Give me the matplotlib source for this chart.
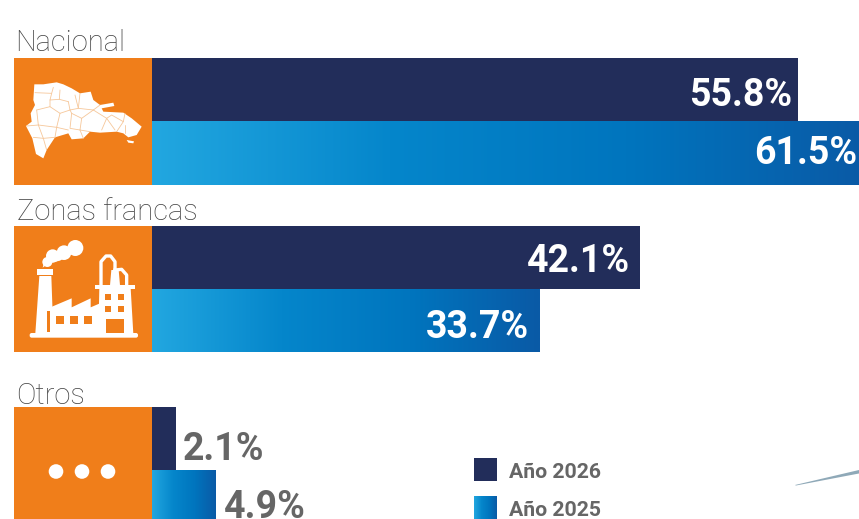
#!/usr/bin/env python3
import numpy as np
import matplotlib; matplotlib.use("Agg")
import matplotlib.pyplot as plt
from matplotlib.colors import LinearSegmentedColormap
from matplotlib.patches import Circle, Polygon, Rectangle, FancyBboxPatch

plt.rcParams["font.family"] = ["Roboto", "DejaVu Sans"]

categories = ["Nacional", "Zonas francas", "Otros"]
values_2026 = [55.8, 42.1, 2.1]
# bar lengths as drawn in the picture (the drawn 2025 bars are not all to scale with their labels)
lengths_2025 = [61.5, 33.5, 5.45]
labels_2026 = ["55.8%", "42.1%", "2.1%"]
labels_2025 = ["61.5%", "33.7%", "4.9%"]
legend_labels = ["Año 2026", "Año 2025"]

W, H = 859, 519
NAVY = "#222D5A"
ORANGE = "#F07E1A"
GRAY = "#666666"
blues = LinearSegmentedColormap.from_list(
    "blues", ["#22A7E0", "#0586CB", "#0075BE", "#0A5AA6"])
grad = np.linspace(0, 1, 256).reshape(1, -1)

# y pixel positions of each group: top of 2026 bar, border, bottom of 2025 bar
group_top = [58, 226, 407]
group_mid = [121, 289, 470]
group_bot = [185, 352, 533]
PX_PER_PCT = 11.58

fig = plt.figure(figsize=(W / 100, H / 100), dpi=100)

# overlay in pixel coordinates for icons and legend
px = fig.add_axes([0, 0, 1, 1])
px.set_xlim(0, W)
px.set_ylim(H, 0)
px.axis("off")

# bars: x in percent, y in pixels
ax = fig.add_axes([152 / W, 0, (W - 152) / W, 1])
ax.patch.set_alpha(0)
ax.axis("off")

for i in range(3):
    ax.barh((group_top[i] + group_mid[i]) / 2, values_2026[i],
            height=group_mid[i] - group_top[i], color=NAVY, lw=0)
    bar = ax.barh((group_mid[i] + group_bot[i]) / 2, lengths_2025[i],
                  height=group_bot[i] - group_mid[i], color="none", lw=0)[0]
    ax.imshow(grad, cmap=blues, aspect="auto", interpolation="bilinear",
              extent=[bar.get_x(), bar.get_x() + bar.get_width(),
                      group_bot[i], group_mid[i]])
ax.set_xlim(0, (W - 152) / PX_PER_PCT)
ax.set_ylim(H, 0)

# value labels
offs_2026 = [-6, -9, 6]
offs_2025 = [-7, -11, 9]
text_y_2026 = [91, 257, 445]
text_y_2025 = [149, 323, 504]
for i in range(3):
    inside = i < 2
    for val, lab, off, y in [
        (values_2026[i], labels_2026[i], offs_2026[i], text_y_2026[i]),
        (lengths_2025[i], labels_2025[i], offs_2025[i], text_y_2025[i]),
    ]:
        ax.annotate(lab, (val, y), xytext=(off * 0.72, 0), textcoords="offset points",
                    ha="right" if inside else "left", va="center_baseline",
                    color="white" if inside else GRAY,
                    fontsize=27, fontweight="bold", annotation_clip=False)

# category titles
title_x = [15, 17, 16]
title_y = [40, 209, 393]
for x, y, c in zip(title_x, title_y, categories):
    px.text(x, y, c, fontsize=21, fontweight="light", color="#444444",
            ha="left", va="center_baseline")

# orange icon panels
for i in range(3):
    px.add_patch(Rectangle((14, group_top[i]), 138, group_bot[i] - group_top[i],
                           fc=ORANGE, lw=0))


def z1(pts):  # zoomed map crop -> pixels
    return [(a / 3, 50 + b / 3) for a, b in pts]


def z2(pts):  # zoomed factory crop -> pixels
    return [(a / 3, 220 + b / 3) for a, b in pts]


# map of the country
map_outline = [(103, 103), (130, 103), (170, 97), (190, 103), (215, 115), (240, 130),
               (272, 125), (280, 150), (300, 165), (340, 158), (343, 168), (305, 175),
               (310, 185), (370, 188), (395, 205), (425, 230), (410, 255), (385, 262),
               (370, 250), (350, 245), (300, 248), (270, 245), (250, 265), (215, 268),
               (205, 250), (165, 262), (140, 300), (130, 325), (108, 312), (97, 265),
               (78, 228), (95, 215), (92, 190), (105, 165), (100, 150)]
px.add_patch(Polygon(z1(map_outline), fc="white", lw=0))
px.add_patch(Polygon(z1([(380, 270), (402, 274), (400, 280), (385, 278)]), fc="white", lw=0))
province_lines = [
    [(105, 128), (155, 130), (160, 112)], [(155, 130), (150, 150), (178, 148), (205, 155)],
    [(178, 148), (180, 120)], [(110, 180), (150, 170), (150, 150)],
    [(110, 180), (115, 225), (170, 232), (180, 190), (210, 180)],
    [(150, 170), (180, 190)], [(205, 155), (210, 180), (235, 175), (240, 130)],
    [(225, 135), (235, 175), (280, 180), (300, 165)], [(210, 180), (215, 190), (210, 235), (240, 240), (270, 245)],
    [(240, 240), (245, 205), (215, 190)], [(245, 205), (280, 180)],
    [(80, 228), (115, 225)], [(100, 262), (130, 265), (165, 262)], [(130, 265), (140, 300)],
    [(115, 225), (130, 265)], [(170, 232), (165, 262)], [(205, 240), (170, 232)],
    [(305, 240), (320, 205), (345, 240)], [(320, 205), (335, 195), (370, 215), (350, 245)],
    [(280, 180), (320, 205)], [(370, 215), (375, 190)], [(375, 225), (375, 250)],
    [(250, 265), (240, 240)],
]
for ln in province_lines:
    p = np.array(z1(ln))
    px.plot(p[:, 0], p[:, 1], color="#F6C79A", lw=0.6, solid_capstyle="round")

# factory icon
white = dict(fc="white", lw=0)
for cx, cy, r in [(226, 84, 24), (192, 98, 22), (158, 108, 20), (142, 126, 15)]:
    cx, cy = z2([(cx, cy)])[0]
    px.add_patch(Circle((cx, cy), r / 3, fc="white", lw=0))
px.add_patch(Polygon(z2([(128, 143), (135, 115), (220, 80), (215, 100), (180, 122), (145, 130)]), **white))
px.add_patch(Rectangle(z2([(112, 148)])[0], 48 / 3, 16 / 3, **white))
px.add_patch(Polygon(z2([(118, 168), (154, 168), (160, 340), (106, 340)]), **white))
px.add_patch(FancyBboxPatch(z2([(89, 339)])[0], 325 / 3, 14 / 3,
                            boxstyle="round,pad=0,rounding_size=2", **white))
px.add_patch(Polygon(z2([(137, 268), (215, 235), (215, 262), (272, 235), (272, 262),
                         (300, 250), (300, 342), (137, 342)]), **white))
px.add_patch(Rectangle(z2([(142, 272)])[0], 2.5, 65 / 3, fc=ORANGE, lw=0))
px.add_patch(Rectangle(z2([(284, 196)])[0], 120 / 3, 12 / 3, **white))
px.add_patch(Polygon(z2([(298, 205), (392, 205), (400, 342), (295, 342)]), **white))
# pipes
pipe1 = np.array(z2([(303, 196), (303, 125), (318, 108), (332, 108), (345, 125), (345, 150)]))
pipe2 = np.array(z2([(345, 150), (365, 148), (380, 165), (380, 196)]))
for p in (pipe1, pipe2):
    px.plot(p[:, 0], p[:, 1], color="white", lw=2.4, solid_joinstyle="round")
px.add_patch(Polygon(z2([(330, 196), (334, 150), (356, 150), (360, 196)]), **white))
# windows
for wx in (168, 210, 252):
    px.add_patch(Rectangle(z2([(wx, 288)])[0], 25 / 3, 25 / 3, fc=ORANGE, lw=0))
for wx in (315, 354):
    for wy in (222, 257):
        px.add_patch(Rectangle(z2([(wx, wy)])[0], 19 / 3, 19 / 3, fc=ORANGE, lw=0))
px.add_patch(Rectangle(z2([(317, 298)])[0], 54 / 3, 41 / 3, fc=ORANGE, lw=0))

# three dots icon
for cx in (56, 82, 108):
    px.add_patch(Circle((cx, 471.5), 7.3, fc="white", lw=0))

# legend
px.add_patch(Rectangle((474, 458), 23, 23, fc=NAVY, lw=0))
px.imshow(grad, cmap=blues, aspect="auto", interpolation="bilinear",
          extent=[474, 497, 530, 496])
for y, lab in zip([471, 509], legend_labels):
    px.text(509, y, lab, fontsize=15.3, fontweight="bold", color=GRAY,
            ha="left", va="center_baseline")

# sliver of another graphic, bottom right
px.add_patch(Polygon([(795, 485), (859, 470), (859, 473.5), (796, 485.5)],
                     fc="#8FA9B8", lw=0))
px.set_xlim(0, W)
px.set_ylim(H, 0)

fig.savefig("out.png", dpi=100)
